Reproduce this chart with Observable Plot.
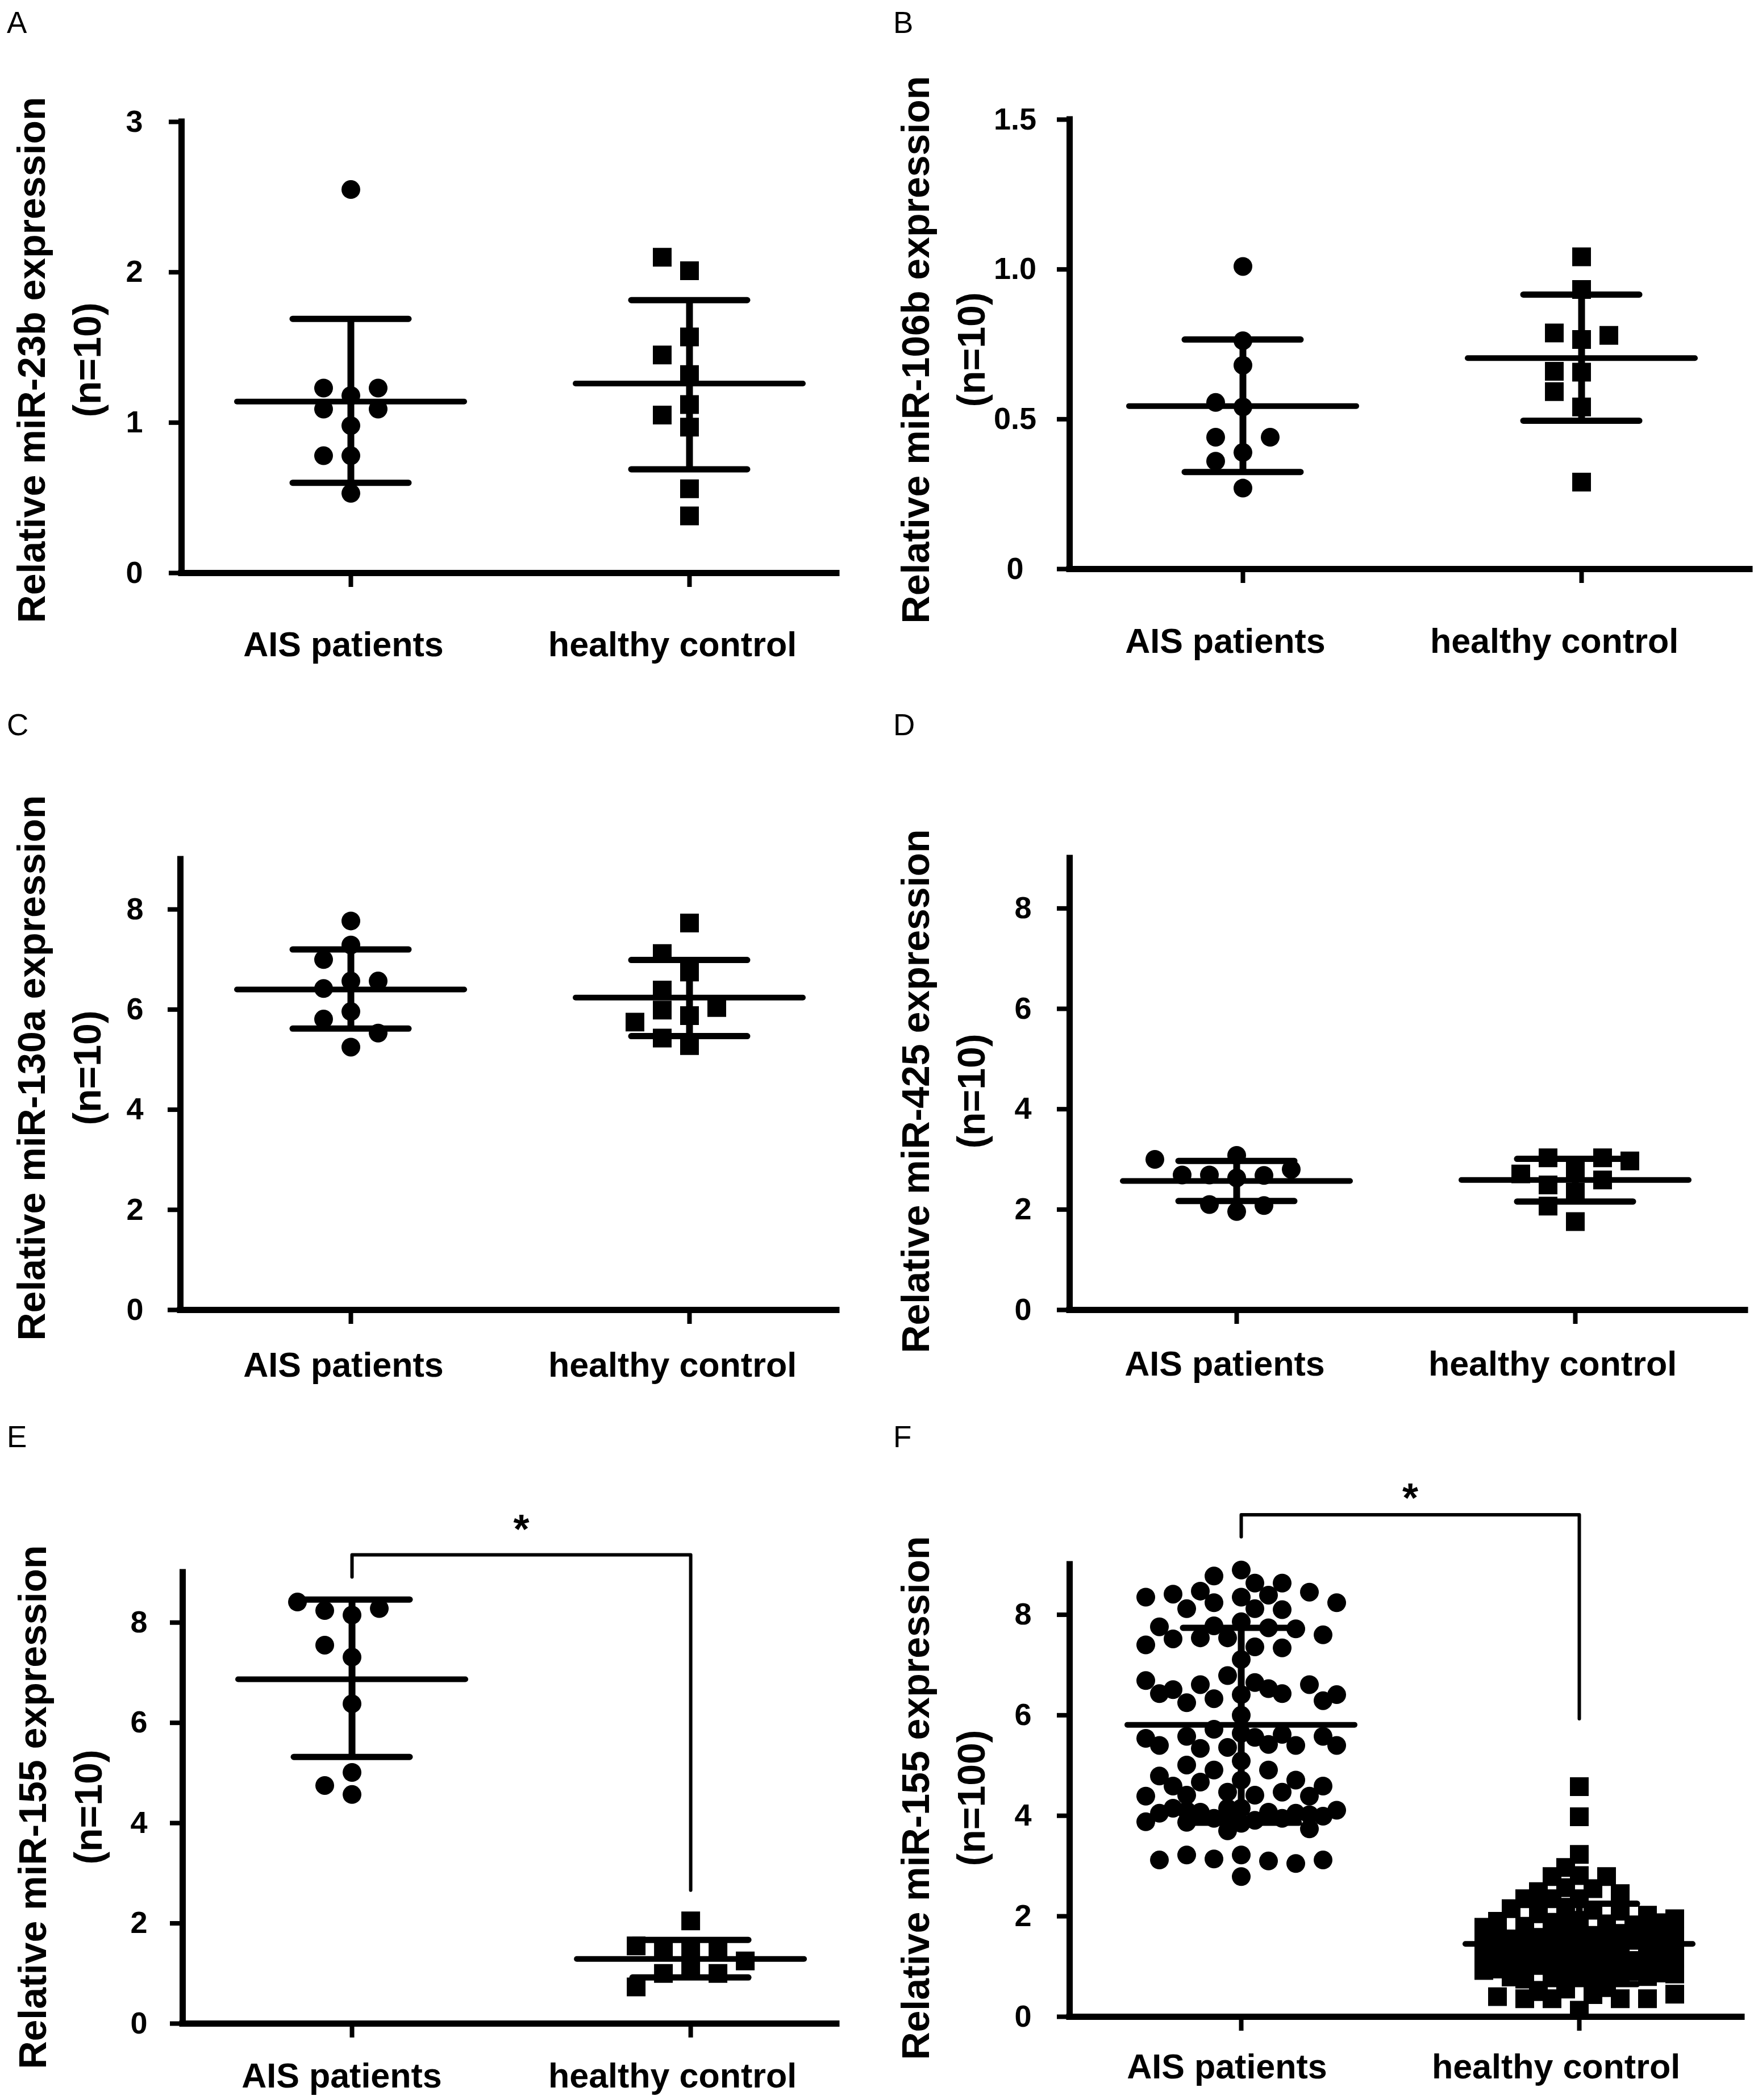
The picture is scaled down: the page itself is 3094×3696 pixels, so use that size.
<!DOCTYPE html>
<html>
<head>
<meta charset="utf-8">
<script src="https://cdn.jsdelivr.net/npm/d3@7"></script>
<script src="https://cdn.jsdelivr.net/npm/@observablehq/plot@0.6"></script>
<style>
  body { margin: 0; background: #fff; }
  #fig { position: relative; width: 3094px; height: 3696px; background: #fff; font-family: "Liberation Sans", Arial, sans-serif; color: #000; }
  .panel { position: absolute; }
  .letter { position: absolute; font-size: 53px; line-height: 1; font-family: "Liberation Sans", Arial, sans-serif; color: #000; }
</style>
</head>
<body>
<div id="fig"></div>
<script>
// ---------- data ----------
const categories = ["AIS patients", "healthy control"];
const yTicks9 = [0, 2, 4, 6, 8];
const yLabels9 = ["0", "2", "4", "6", "8"];

// Panel A: miR-23b
const aTitle = "Relative miR-23b expression";
const aN = "(n=10)";
const aAIS = [2.55, 1.18, 0.98, 0.53, 1.23, 1.23, 1.09, 1.09, 0.78, 0.78];
const aHC = [2.01, 2.10, 1.57, 1.45, 1.32, 0.97, 1.12, 1.05, 0.38, 0.56];
const aMean = [1.14, 1.26];
const aUpper = [1.69, 1.815];
const aLower = [0.60, 0.69];
const aYTicks = [0, 1, 2, 3];
const aYLabels = ["0", "1", "2", "3"];

// Panel B: miR-106b
const bTitle = "Relative miR-106b expression";
const bN = "(n=10)";
const bAIS = [1.01, 0.68, 0.541, 0.389, 0.27, 0.762, 0.556, 0.44, 0.44, 0.36];
const bHC = [1.042, 0.933, 0.766, 0.657, 0.541, 0.29, 0.788, 0.78, 0.66, 0.592];
const bMean = [0.544, 0.704];
const bUpper = [0.766, 0.916];
const bLower = [0.324, 0.495];
const bYTicks = [0, 0.5, 1.0, 1.5];
const bYLabels = ["0", "0.5", "1.0", "1.5"];

// Panel C: miR-130a
const cTitle = "Relative miR-130a expression";
const cN = "(n=10)";
const cAIS = [7.29, 6.57, 5.96, 5.25, 7.77, 7.00, 6.42, 5.81, 6.57, 5.53];
const cHC = [7.73, 6.75, 5.88, 5.28, 7.12, 6.39, 6.04, 5.99, 5.75, 5.43];
const cMean = [6.40, 6.24];
const cUpper = [7.20, 6.99];
const cLower = [5.62, 5.47];

// Panel D: miR-425
const dTitle = "Relative miR-425 expression";
const dN = "(n=10)";
const dAIS = [2.63, 1.96, 2.69, 2.10, 2.68, 2.08, 2.69, 2.80, 3.00, 3.08];
const dHC = [2.78, 2.35, 1.76, 2.49, 3.03, 2.59, 2.71, 2.97, 3.03, 2.07];
const dMean = [2.57, 2.59];
const dUpper = [2.97, 3.01];
const dLower = [2.17, 2.16];

// Panel E: miR-155 (n=10)
const eTitle = "Relative miR-155 expression";
const eN = "(n=10)";
const eAIS = [8.15, 7.31, 6.38, 4.57, 8.24, 7.55, 5.01, 4.75, 8.28, 8.41];
const eHC = [2.05, 1.49, 1.49, 1.49, 1.55, 1.07, 1.00, 1.00, 0.73, 1.25];
const eMean = [6.87, 1.29];
const eUpper = [8.46, 1.67];
const eLower = [5.32, 0.92];
const eBracketX = [1, 1, 2, 2];
const eBracketY = [8.91, 9.35, 9.35, 2.66];
const eStar = "*";
const eStarY = 9.85;

// Panel F: miR-155 (n=100)
const fTitle = "Relative miR-155 expression";
const fN = "(n=100)";
const fAIS = [
  8.89, 8.77, 8.63, 8.63, 8.35, 8.47, 8.41, 8.39, 8.45, 8.35, 8.24, 8.24, 8.12, 8.10, 8.12,
  7.86, 7.54, 7.74, 7.54, 7.72, 7.78, 7.52, 7.60, 7.36, 7.34, 7.40, 7.11, 7.76,
  6.79,
  6.65, 6.61, 6.41, 6.33, 6.43, 6.51, 6.61, 6.69, 6.25, 6.29, 6.41, 6.43, 6.53,
  6.00, 5.64, 5.72, 5.36, 5.42, 5.58, 5.40, 5.40, 5.58, 5.54, 5.62, 5.34, 5.40, 5.56,
  5.09, 4.91, 4.91, 5.01,
  4.71, 4.67, 4.71, 4.79, 4.47, 4.41, 4.59, 4.47, 4.59, 4.39, 4.41, 4.39,
  4.15, 3.95, 4.07, 3.87, 4.05, 4.05, 3.99, 4.07, 3.91, 4.11, 3.95, 4.15, 3.88, 3.70, 3.74, 4.15, 4.02, 3.85, 4.10, 4.00,
  3.22, 3.14, 3.10, 3.22, 3.05, 3.12, 3.12, 2.79
];
const fHC = [
  4.58, 3.98, 3.23, 2.97, 2.81, 2.79, 2.79, 2.57, 2.55, 2.49, 2.45, 2.35, 2.35, 2.35,
  2.18, 2.12, 2.05, 2.10, 2.15, 2.02,
  1.92, 1.88, 1.85, 1.80, 1.90, 1.83, 1.87, 1.78, 1.95, 1.82,
  1.62, 1.58, 1.66, 1.55, 1.70, 1.60, 1.64, 1.57, 1.68, 1.52, 1.61, 1.65, 1.59, 1.63,
  1.38, 1.33, 1.42, 1.30, 1.36, 1.45, 1.28, 1.40, 1.35, 1.32, 1.44, 1.37, 1.31, 1.39, 1.34,
  1.12, 1.08, 1.15, 1.05, 1.18, 1.10, 1.14, 1.06, 1.20, 1.09, 1.13, 1.02, 1.16, 1.11, 1.07, 1.17,
  0.88, 0.82, 0.92, 0.78, 0.85, 0.95, 0.80, 0.90, 0.75, 0.87, 0.83, 0.93, 0.79, 0.86,
  0.58, 0.55, 0.44, 0.36, 0.36, 0.36, 0.36, 0.40, 0.45, 0.13, 0.50
];
const fMean = [5.81, 1.45];
const fUpper = [7.74, 2.25];
const fLower = [3.86, 0.65];
const fBracketX = [1, 1, 2, 2];
const fBracketY = [9.55, 9.99, 9.99, 5.93];
const fStar = "*";
const fStarY = 10.31;

// ---------- layout helpers ----------
const FONT = "'Liberation Sans', Arial, sans-serif";

// grid beeswarm: returns a column index for every value (centre first, then left/right)
function swarmOffsets(values, pxPerY, step, gap, maxK) {
  const placed = [];
  const order = [0];
  for (let k = 1; k <= maxK; k++) order.push(-k, k);
  return values.map(v => {
    const py = v * pxPerY;
    let best = 0, bestScore = -Infinity;
    for (const k of order) {
      let minD = Infinity;
      for (const p of placed) {
        const dx = (p.k - k) * step, dy = p.py - py;
        const d = Math.hypot(dx, dy);
        if (d < minD) minD = d;
      }
      if (minD >= gap) { best = k; break; }
      if (minD > bestScore) { bestScore = minD; best = k; }
    }
    placed.push({k: best, py});
    return best;
  });
}

function makePanel(cfg) {
  const {W, H, mL, mR, mT, mB, xDom, yMax, yTicks, yLabels, ais, hc, mean, upper, lower,
         title, nLabel, tickPad, labPad, labShift, titleCX, titleCY,
         step, gap, gapHC, maxK, bracketX, bracketY, star, starY} = cfg;
  const ppuX = (W - mL - mR) / (xDom[1] - xDom[0]);
  const ppuY = (H - mT - mB) / yMax;
  const pts = [];
  [ais, hc].forEach((vals, gi) => {
    const ks = swarmOffsets(vals, ppuY, step, gi ? gapHC : gap, maxK);
    vals.forEach((v, i) => pts.push({g: gi, x: gi + 1 + ks[i] * step / ppuX, y: v}));
  });
  const summ = categories.map((c, i) => ({x: i + 1, mean: mean[i], hi: upper[i], lo: lower[i]}));
  const mw = 200 / ppuX, cw = 102 / ppuX;
  const marks = [
    Plot.dot(pts.filter(d => d.g === 0), {x: "x", y: "y", r: 16.5, fill: "black", symbol: "circle"}),
    Plot.dot(pts.filter(d => d.g === 1), {x: "x", y: "y", r: 18.6, fill: "black", symbol: "square"}),
    Plot.ruleX(summ, {x: "x", y1: "lo", y2: "hi", strokeWidth: 12}),
    Plot.ruleY(summ, {y: "mean", x1: d => d.x - mw, x2: d => d.x + mw, strokeWidth: 10, strokeLinecap: "round"}),
    Plot.ruleY(summ, {y: "hi", x1: d => d.x - cw, x2: d => d.x + cw, strokeWidth: 11, strokeLinecap: "round"}),
    Plot.ruleY(summ, {y: "lo", x1: d => d.x - cw, x2: d => d.x + cw, strokeWidth: 11, strokeLinecap: "round"}),
    Plot.ruleY([0], {x1: xDom[0], x2: xDom[1], strokeWidth: 11, strokeLinecap: "square"}),
    Plot.ruleX([xDom[0]], {y1: 0, y2: yMax, strokeWidth: 11, strokeLinecap: "square"}),
    Plot.axisY({ticks: yTicks, tickFormat: d => yLabels[yTicks.indexOf(d)], tickSize: 22, tickPadding: tickPad,
      textAnchor: "middle", fontSize: 54, fontWeight: "bold", fontFamily: FONT, strokeWidth: 8, label: null}),
    Plot.axisX({ticks: [1, 2], tickSize: 25, tickFormat: () => "", strokeWidth: 8, label: null}),
    ...categories.map((c, i) => Plot.axisX({ticks: [i + 1], tickSize: 0, tickPadding: labPad, tickFormat: () => c,
      dx: labShift[i], fontSize: 61, fontWeight: "bold", fontFamily: FONT, label: null})),
    Plot.text([title + "\n" + nLabel], {text: d => d, frameAnchor: "top-left", dx: titleCX - mL, dy: titleCY - mT,
      rotate: -90, textAnchor: "middle", lineAnchor: "middle", lineHeight: 1.45, fontSize: 68,
      fontWeight: "bold", fontFamily: FONT})
  ];
  if (bracketY) {
    marks.push(Plot.line(bracketY, {x: (d, i) => bracketX[i], y: d => d, strokeWidth: 6}));
    marks.push(Plot.text([star], {text: d => d, x: () => 1.5, y: () => starY, fontSize: 72, fontWeight: "bold",
      fontFamily: FONT, lineAnchor: "middle"}));
  }
  return Plot.plot({
    width: W, height: H,
    marginLeft: mL, marginRight: mR, marginTop: mT, marginBottom: mB,
    x: {domain: xDom, axis: null},
    y: {domain: [0, yMax], axis: null},
    style: {fontFamily: FONT, color: "#000", background: "transparent", overflow: "visible"},
    marks
  });
}

const common = {W: 1547, step: 48, gap: 34, gapHC: 34, maxK: 4};
const panels = [
  {letter: "A", left: 0, top: 0, cfg: {...common, H: 1240, mL: 319, mR: 75, mT: 214, mB: 232,
    xDom: [0.5, 2.4346], yMax: 3, yTicks: aYTicks, yLabels: aYLabels, ais: aAIS, hc: aHC,
    mean: aMean, upper: aUpper, lower: aLower, title: aTitle, nLabel: aN,
    tickPad: 61, labPad: 103, labShift: [-13, -30], titleCX: 96, titleCY: 633}},
  {letter: "B", left: 1547, top: 0, cfg: {...common, H: 1240, mL: 335, mR: 15, mT: 210, mB: 239,
    xDom: [0.4883, 2.4966], yMax: 1.5, yTicks: bYTicks, yLabels: bYLabels, ais: bAIS, hc: bHC,
    mean: bMean, upper: bUpper, lower: bLower, title: bTitle, nLabel: bN,
    tickPad: 74, labPad: 104, labShift: [-31, -48], titleCX: 105, titleCY: 615}},
  {letter: "C", left: 0, top: 1240, cfg: {...common, H: 1240, mL: 317, mR: 75, mT: 272, mB: 175,
    xDom: [0.4966, 2.4346], yMax: 9, yTicks: yTicks9, yLabels: yLabels9, ais: cAIS, hc: cHC,
    mean: cMean, upper: cUpper, lower: cLower, title: cTitle, nLabel: cN,
    tickPad: 58, labPad: 74, labShift: [-13, -30], titleCX: 96, titleCY: 639}},
  {letter: "D", left: 1547, top: 1240, cfg: {...common, H: 1240, mL: 335, mR: 23, mT: 270, mB: 175,
    xDom: [0.5067, 2.5017], yMax: 9, yTicks: yTicks9, yLabels: yLabels9, ais: dAIS, hc: dHC,
    mean: dMean, upper: dUpper, lower: dLower, title: dTitle, nLabel: dN,
    tickPad: 60, labPad: 72, labShift: [-21, -40], titleCX: 105, titleCY: 680}},
  {letter: "E", left: 0, top: 2480, cfg: {...common, H: 1216, mL: 321, mR: 75, mT: 287, mB: 135,
    xDom: [0.5, 2.431], yMax: 9, yTicks: yTicks9, yLabels: yLabels9, ais: eAIS, hc: eHC,
    mean: eMean, upper: eUpper, lower: eLower, title: eTitle, nLabel: eN,
    tickPad: 55, labPad: 69, labShift: [-18, -32], titleCX: 98, titleCY: 700,
    bracketX: eBracketX, bracketY: eBracketY, star: eStar, starY: eStarY}},
  {letter: "F", left: 1547, top: 2480, cfg: {...common, H: 1216, mL: 335, mR: 29, mT: 273, mB: 147,
    xDom: [0.4924, 2.4807], yMax: 9, yTicks: yTicks9, yLabels: yLabels9, ais: fAIS, hc: fHC,
    mean: fMean, upper: fUpper, lower: fLower, title: fTitle, nLabel: fN,
    tickPad: 60, labPad: 65, labShift: [-25, -41], titleCX: 105, titleCY: 684,
    step: 24, gap: 31, gapHC: 27, maxK: 7,
    bracketX: fBracketX, bracketY: fBracketY, star: fStar, starY: fStarY}}
];

const fig = document.getElementById("fig");
for (const p of panels) {
  const wrap = document.createElement("div");
  wrap.className = "panel";
  wrap.style.left = p.left + "px";
  wrap.style.top = p.top + "px";
  wrap.appendChild(makePanel(p.cfg));
  fig.appendChild(wrap);
  const lt = document.createElement("div");
  lt.className = "letter";
  lt.textContent = p.letter;
  lt.style.left = (p.left === 0 ? 12 : 1572) + "px";
  lt.style.top = (p.top + (p.top === 0 ? 13 : (p.top === 1240 ? 9 : 22))) + "px";
  fig.appendChild(lt);
}
</script>
</body>
</html>
